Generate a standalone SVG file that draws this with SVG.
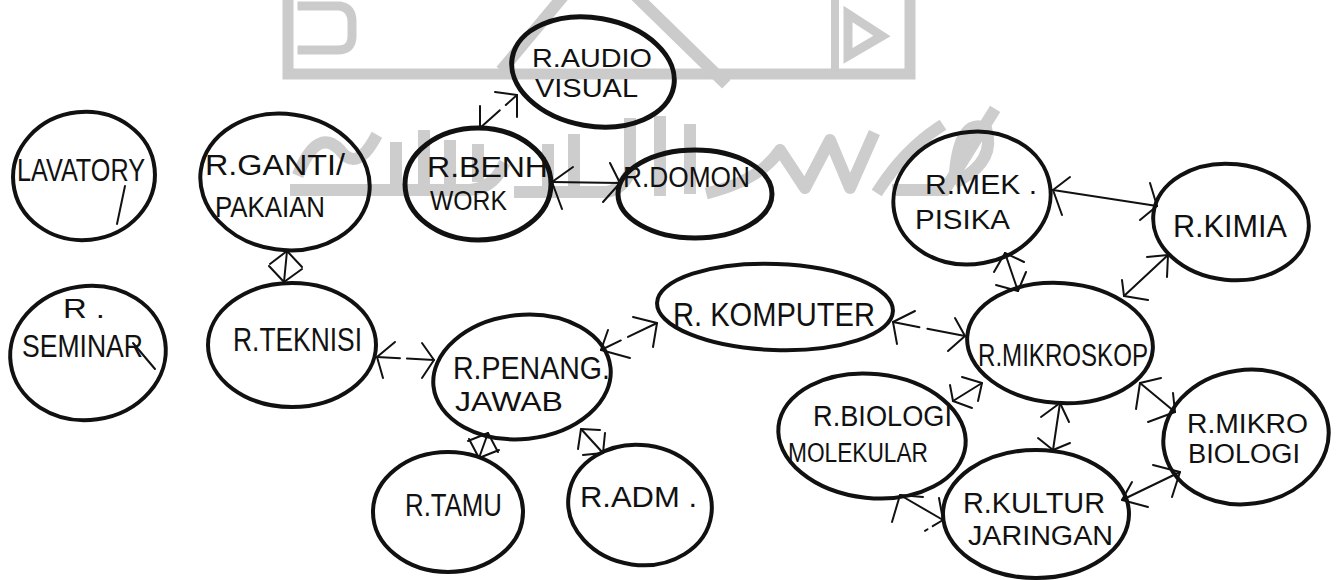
<svg xmlns="http://www.w3.org/2000/svg" width="1338" height="580" viewBox="0 0 1338 580">
  <style>
    .room { fill: none; stroke: #111; stroke-width: 4; }
    .room.heavy { stroke-width: 5; }
    .lbl { font-family: "Liberation Sans Narrow", "Liberation Sans", Arial, sans-serif; fill: #111; }
    .link { fill: none; stroke: #111; stroke-width: 2; stroke-linecap: round; }
    .head { fill: none; stroke: #111; stroke-width: 2; stroke-linecap: round; stroke-linejoin: round; }
    .mark { fill: none; stroke: #111; stroke-width: 2; stroke-linecap: round; }
    .seal { fill: none; stroke: #cbcbcb; stroke-linecap: square; }
    .callig { fill: none; stroke: #cdcdcd; stroke-width: 12; stroke-linecap: square; stroke-linejoin: round; }
  </style>

  <rect width="1338" height="580" fill="#fff"/>

  <!-- faint background seal -->
  <g id="seal">
    <path class="seal" stroke-width="11" d="M288 0 V74 H910 V0"/>
    <path class="seal" stroke-width="9" d="M302 6 H340 Q352 8 352 22 V36 Q352 50 338 50 H302"/>
    <path class="seal" stroke-width="12" d="M505 66 L560 0 M640 0 L722 80"/>
    <path class="seal" stroke-width="9" d="M848 14 L882 36 L848 56 Z"/>
    <path class="seal" stroke-width="8" d="M835 0 V66"/>
    <g class="callig">
      <path d="M300 170 Q318 128 340 150 Q356 172 374 140"/>
      <path d="M296 190 H470 Q492 188 502 168"/>
      <path d="M396 148 V188 M424 136 V188 M450 146 V188 M478 150 V176"/>
      <path d="M520 192 H606 Q622 190 630 172 V124"/>
      <path d="M548 150 V190 M574 140 V190 M660 122 V190 M690 130 V188"/>
      <path d="M712 192 Q760 180 780 150 L805 188 L830 140 L850 188 L872 138"/>
      <path d="M880 188 Q905 150 938 128 M898 190 H942"/>
      <path d="M955 172 Q960 118 986 128 Q996 160 960 180 M946 188 L992 114"/>
    </g>
  </g>

  <!-- two-way links between rooms: shaft plus an open tip at each end -->
  <g id="links">
    <!-- ganti/pakaian - teknisi -->
    <line class="link" x1="287" y1="251" x2="284" y2="282"/>
    <path class="head" d="M270 264 L287 251 L302 267 M302 269 L284 282 L269 266"/>
    <!-- audio visual - bench work -->
    <line class="link" x1="517" y1="95" x2="480" y2="128" stroke-dasharray="15 8 200"/>
    <path class="head" d="M495 92 L517 95 L517 117 M501 130 L480 128 L480 106"/>
    <!-- bench work - domon -->
    <line class="link" x1="552" y1="182" x2="620" y2="183"/>
    <path class="head" d="M573 167 L552 182 L562 209 M610 163 L620 183 L603 202"/>
    <!-- teknisi - penanggung jawab -->
    <line class="link" x1="377" y1="357" x2="434" y2="360" stroke-dasharray="23 7 200"/>
    <path class="head" d="M395 342 L377 357 L383 378 M422 343 L434 360 L422 378"/>
    <!-- penanggung jawab - komputer -->
    <line class="link" x1="601" y1="350" x2="657" y2="323" stroke-dasharray="22 8 200"/>
    <path class="head" d="M630 358 L601 350 L608 330 M633 317 L657 323 L653 347"/>
    <!-- komputer - mikroskop -->
    <line class="link" x1="893" y1="322" x2="965" y2="336" stroke-dasharray="27 8 200"/>
    <path class="head" d="M915 311 L893 322 L897 344 M955 318 L965 336 L948 351"/>
    <!-- mek pisika - kimia -->
    <line class="link" x1="1053" y1="190" x2="1157" y2="206"/>
    <path class="head" d="M1070 177 L1053 190 L1062 215 M1150 183 L1157 206 L1140 220"/>
    <!-- mek pisika - mikroskop -->
    <line class="link" x1="1005" y1="253" x2="1018" y2="291"/>
    <path class="head" d="M994 272 L1005 253 L1024 262 M1026 272 L1018 291 L996 285"/>
    <!-- kimia - mikroskop -->
    <line class="link" x1="1168" y1="255" x2="1124" y2="296"/>
    <path class="head" d="M1147 257 L1168 255 L1167 277 M1122 280 L1124 296 L1148 300"/>
    <!-- penanggung jawab - tamu -->
    <line class="link" x1="488" y1="433" x2="479" y2="458"/>
    <path class="head" d="M468 441 L488 433 L498 452 M499 450 L479 458 L469 439"/>
    <!-- penanggung jawab - adm -->
    <line class="link" x1="581" y1="429" x2="603" y2="453"/>
    <path class="head" d="M578 449 L581 429 L600 430 M605 433 L603 453 L583 455"/>
    <!-- biologi molekular - mikroskop -->
    <line class="link" x1="953" y1="401" x2="982" y2="383"/>
    <path class="head" d="M950 385 L953 401 L972 408 M962 377 L982 383 L978 401"/>
    <!-- mikroskop - kultur jaringan -->
    <line class="link" x1="1060" y1="403" x2="1053" y2="450"/>
    <path class="head" d="M1041 417 L1060 403 L1069 422 M1070 443 L1053 450 L1038 438"/>
    <!-- mikroskop - mikro biologi -->
    <line class="link" x1="1140" y1="383" x2="1175" y2="412"/>
    <path class="head" d="M1161 378 L1140 383 L1136 409 M1173 393 L1175 412 L1148 422"/>
    <!-- mikro biologi - kultur jaringan -->
    <line class="link" x1="1180" y1="472" x2="1122" y2="500"/>
    <path class="head" d="M1153 465 L1180 472 L1172 497 M1132 482 L1122 500 L1148 507"/>
    <!-- biologi molekular - kultur jaringan -->
    <line class="link" x1="900" y1="495" x2="943" y2="520"/>
    <path class="head" d="M892 522 L900 495 L923 497 M939 498 L943 520"/>
    <path class="mark" d="M943 520 L918 535" stroke-dasharray="12 6 3 40"/>
  </g>

  <g id="lavatory">
    <ellipse class="room" cx="84" cy="176" rx="71" ry="64" transform="rotate(-6 84 176)"/>
    <text class="lbl" x="17" y="181" font-size="31" textLength="128" lengthAdjust="spacingAndGlyphs">LAVATORY</text>
    <path class="mark" d="M125 186 L117 224"/>
  </g>

  <g id="ganti-pakaian">
    <ellipse class="room" cx="285" cy="182" rx="85" ry="68" transform="rotate(8 285 182)"/>
    <text class="lbl" x="205" y="175" font-size="29" textLength="140" lengthAdjust="spacingAndGlyphs">R.GANTI/</text>
    <text class="lbl" x="215" y="217" font-size="29" textLength="110" lengthAdjust="spacingAndGlyphs">PAKAIAN</text>
  </g>

  <g id="audio-visual">
    <ellipse class="room heavy" cx="593" cy="72" rx="82" ry="54" transform="rotate(10 593 72)"/>
    <text class="lbl" x="532" y="67" font-size="25" textLength="120" lengthAdjust="spacingAndGlyphs">R.AUDIO</text>
    <text class="lbl" x="535" y="97" font-size="26" textLength="103" lengthAdjust="spacingAndGlyphs">VISUAL</text>
  </g>

  <g id="bench-work">
    <ellipse class="room heavy" cx="478" cy="184" rx="73" ry="56"/>
    <text class="lbl" x="427" y="177" font-size="29" textLength="121" lengthAdjust="spacingAndGlyphs">R.BENH</text>
    <text class="lbl" x="430" y="210" font-size="28" textLength="77" lengthAdjust="spacingAndGlyphs">WORK</text>
  </g>

  <g id="domon">
    <ellipse class="room heavy" cx="695" cy="194" rx="77" ry="44"/>
    <text class="lbl" x="623" y="187" font-size="29" textLength="127" lengthAdjust="spacingAndGlyphs">R.DOMON</text>
  </g>

  <g id="mek-pisika">
    <ellipse class="room" cx="972" cy="198" rx="79" ry="66" transform="rotate(-10 972 198)"/>
    <text class="lbl" x="925" y="194" font-size="27" textLength="112" lengthAdjust="spacingAndGlyphs">R.MEK .</text>
    <text class="lbl" x="915" y="229" font-size="27" textLength="95" lengthAdjust="spacingAndGlyphs">PISIKA</text>
  </g>

  <g id="kimia">
    <ellipse class="room" cx="1231" cy="222" rx="78" ry="58" transform="rotate(6 1231 222)"/>
    <text class="lbl" x="1173" y="237" font-size="31" textLength="114" lengthAdjust="spacingAndGlyphs">R.KIMIA</text>
  </g>

  <g id="seminar">
    <ellipse class="room" cx="88" cy="353" rx="78" ry="67" transform="rotate(-8 88 353)"/>
    <text class="lbl" x="63" y="318" font-size="27" textLength="42" lengthAdjust="spacingAndGlyphs">R .</text>
    <text class="lbl" x="22" y="357" font-size="32" textLength="121" lengthAdjust="spacingAndGlyphs">SEMINAR</text>
    <path class="mark" d="M133 343 L155 369"/>
  </g>

  <g id="teknisi">
    <ellipse class="room" cx="292" cy="345" rx="84" ry="62"/>
    <text class="lbl" x="233" y="351" font-size="34" textLength="129" lengthAdjust="spacingAndGlyphs">R.TEKNISI</text>
  </g>

  <g id="penanggung-jawab">
    <ellipse class="room" cx="522" cy="377" rx="89" ry="62" transform="rotate(-6 522 377)"/>
    <text class="lbl" x="453" y="379" font-size="31" textLength="157" lengthAdjust="spacingAndGlyphs">R.PENANG.</text>
    <text class="lbl" x="455" y="411" font-size="27" textLength="108" lengthAdjust="spacingAndGlyphs">JAWAB</text>
  </g>

  <g id="tamu">
    <ellipse class="room" cx="448" cy="512" rx="75" ry="60"/>
    <text class="lbl" x="405" y="516" font-size="32" textLength="97" lengthAdjust="spacingAndGlyphs">R.TAMU</text>
  </g>

  <g id="adm">
    <ellipse class="room" cx="640" cy="505" rx="72" ry="60" transform="rotate(8 640 505)"/>
    <text class="lbl" x="580" y="507" font-size="30" textLength="117" lengthAdjust="spacingAndGlyphs">R.ADM .</text>
  </g>

  <g id="komputer">
    <ellipse class="room" cx="775" cy="307" rx="118" ry="43" transform="rotate(2 775 307)"/>
    <text class="lbl" x="673" y="326" font-size="34" textLength="202" lengthAdjust="spacingAndGlyphs">R. KOMPUTER</text>
  </g>

  <g id="mikroskop">
    <ellipse class="room" cx="1060" cy="343" rx="93" ry="60" transform="rotate(4 1060 343)"/>
    <text class="lbl" x="978" y="366" font-size="31" textLength="170" lengthAdjust="spacingAndGlyphs">R.MIKROSKOP</text>
  </g>

  <g id="biologi-molekular">
    <ellipse class="room" cx="872" cy="436" rx="94" ry="62" transform="rotate(6 872 436)"/>
    <text class="lbl" x="813" y="426" font-size="30" textLength="139" lengthAdjust="spacingAndGlyphs">R.BIOLOGI</text>
    <text class="lbl" x="788" y="462" font-size="27" textLength="140" lengthAdjust="spacingAndGlyphs">MOLEKULAR</text>
  </g>

  <g id="mikro-biologi">
    <ellipse class="room" cx="1246" cy="437" rx="83" ry="67" transform="rotate(-8 1246 437)"/>
    <text class="lbl" x="1187" y="433" font-size="27" textLength="121" lengthAdjust="spacingAndGlyphs">R.MIKRO</text>
    <text class="lbl" x="1188" y="463" font-size="27" textLength="112" lengthAdjust="spacingAndGlyphs">BIOLOGI</text>
  </g>

  <g id="kultur-jaringan">
    <ellipse class="room" cx="1036" cy="514" rx="93" ry="64"/>
    <text class="lbl" x="963" y="513" font-size="30" textLength="142" lengthAdjust="spacingAndGlyphs">R.KULTUR</text>
    <text class="lbl" x="968" y="545" font-size="27" textLength="145" lengthAdjust="spacingAndGlyphs">JARINGAN</text>
  </g>
</svg>
